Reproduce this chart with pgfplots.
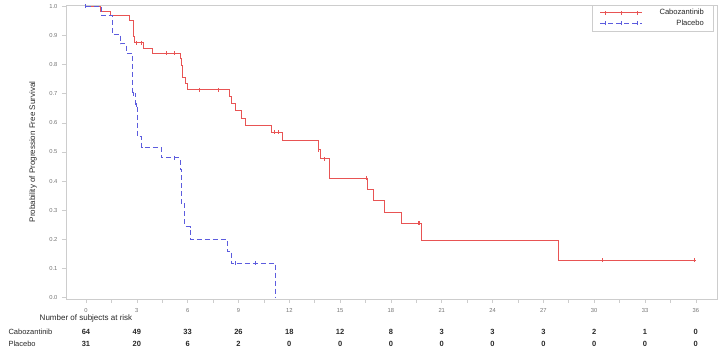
\documentclass[border=0pt]{standalone}
\usepackage{fontspec}
\setmainfont{Liberation Sans}
\usepackage{pgfplots}
\pgfplotsset{compat=1.18}
\definecolor{cabo}{RGB}{232,84,84}
\definecolor{plac}{RGB}{92,92,222}
\definecolor{framec}{RGB}{205,205,205}
\definecolor{tickc}{RGB}{115,115,115}
\definecolor{txt}{RGB}{40,40,40}
\begin{document}
\begin{tikzpicture}[x=1pt,y=1pt]
\path[use as bounding box] (0,0) rectangle (723,353);
\begin{axis}[at={(66pt,54pt)}, anchor=south west, scale only axis,
  width=651pt, height=294pt,
  xmin=-1.18, xmax=37.25, ymin=-0.0045, ymax=1.0045,
  xtick={0,3,6,9,12,15,18,21,24,27,30,33,36},
  minor xtick={1.5,4.5,7.5,10.5,13.5,16.5,19.5,22.5,25.5,28.5,31.5,34.5},
  ytick={0,0.1,0.2,0.3,0.4,0.5,0.6,0.7,0.8,0.9,1.0},
  yticklabel style={/pgf/number format/fixed,/pgf/number format/fixed zerofill,/pgf/number format/precision=1},
  /pgf/number format/assume math mode=true,
  ticklabel style={font=\fontsize{5.8}{7}\selectfont, text=tickc},
  xticklabel style={yshift=-2pt},
  yticklabel style={xshift=-1pt},
  tick align=outside, tick pos=left, major tick length=4pt, minor tick length=4pt,
  axis line style={draw=framec, line width=0.8pt}, tick style={draw=framec, line width=0.6pt},
  clip=false,
  legend style={at={(rel axis cs:0.994,1)}, anchor=north east, draw=framec,
    font=\fontsize{7.6}{8}\selectfont, text=txt, legend cell align=right,
    inner xsep=7pt, inner ysep=2pt, row sep=-0.5pt,
    /tikz/every odd column/.append style={column sep=15pt}},
  legend image code/.code={
    \draw[#1] (0pt,0pt) -- (42pt,0pt);
    \draw[#1,solid] (5pt,-2pt) -- (5pt,2pt);
    \draw[#1,solid] (21pt,-2pt) -- (21pt,2pt);
    \draw[#1,solid] (37pt,-2pt) -- (37pt,2pt);
  },
]
% Cabozantinib KM curve
\addplot[draw=cabo, color=cabo, line width=1pt, const plot, mark=none] coordinates {
(0,1) (0.83,0.981) (1.42,0.967) (2.56,0.95) (2.79,0.896) (2.88,0.875)
(3.38,0.856) (3.91,0.839) (5.55,0.82) (5.62,0.797) (5.68,0.756) (5.88,0.736)
(5.98,0.713) (8.5,0.69) (8.6,0.667) (8.85,0.644) (9.19,0.616) (9.44,0.59)
(10.96,0.567) (11.58,0.538) (13.75,0.507) (13.87,0.476) (14.36,0.41)
(16.6,0.37) (16.96,0.332) (17.65,0.293) (18.6,0.255) (19.8,0.195)
(27.92,0.129) (36,0.129)};
\addlegendentry{Cabozantinib}
% Placebo KM curve
\addplot[draw=plac, color=plac, line width=1pt, dash pattern=on 5pt off 3pt, const plot, mark=none] coordinates {
(0,1) (0.93,0.968) (1.55,0.903) (2.05,0.871) (2.4,0.839) (2.74,0.70)
(2.95,0.66) (3.05,0.553) (3.28,0.516) (4.46,0.48) (5.55,0.44) (5.62,0.324)
(5.84,0.244) (6.14,0.2) (8.34,0.158) (8.6,0.118) (11.2,0)};
\addlegendentry{Placebo}
% censor marks
\addplot[color=cabo, only marks, mark=|, mark size=2pt, mark options={line width=1pt}, forget plot] coordinates {
(2.99,0.875) (3.28,0.875) (4.76,0.839) (5.2,0.839) (6.69,0.713) (7.85,0.713)
(11.1,0.567) (11.35,0.567) (13.75,0.507) (14.1,0.476) (16.57,0.41)
(19.6,0.255) (19.7,0.255) (30.5,0.129) (35.95,0.129)};
\addplot[color=plac, only marks, mark=|, mark size=2pt, mark options={line width=1pt}, forget plot] coordinates {
(0,1) (2.79,0.70) (2.97,0.66) (5.25,0.48) (8.8,0.118) (10.0,0.118)};
% y label
\node[rotate=90, font=\fontsize{8}{9}\selectfont, text=txt] at (axis cs:-3.13,0.5) {Probability of Progression Free Survival};
% risk table
\node[font=\fontsize{8}{9}\selectfont, text=txt] at (axis cs:0,-0.0707) {Number of subjects at risk};
\node[anchor=west, font=\fontsize{7.5}{8}\selectfont, text=txt] at (axis cs:-4.78,-0.1187) {Cabozantinib};
\node[anchor=west, font=\fontsize{7.5}{8}\selectfont, text=txt] at (axis cs:-4.78,-0.1589) {Placebo};
\begin{scope}[every node/.style={font=\fontsize{7.5}{8}\selectfont\bfseries, text=txt}]
\node at (axis cs:0,-0.1187) {64};
\node at (axis cs:3,-0.1187) {49};
\node at (axis cs:6,-0.1187) {33};
\node at (axis cs:9,-0.1187) {26};
\node at (axis cs:12,-0.1187) {18};
\node at (axis cs:15,-0.1187) {12};
\node at (axis cs:18,-0.1187) {8};
\node at (axis cs:21,-0.1187) {3};
\node at (axis cs:24,-0.1187) {3};
\node at (axis cs:27,-0.1187) {3};
\node at (axis cs:30,-0.1187) {2};
\node at (axis cs:33,-0.1187) {1};
\node at (axis cs:36,-0.1187) {0};
\node at (axis cs:0,-0.1589) {31};
\node at (axis cs:3,-0.1589) {20};
\node at (axis cs:6,-0.1589) {6};
\node at (axis cs:9,-0.1589) {2};
\node at (axis cs:12,-0.1589) {0};
\node at (axis cs:15,-0.1589) {0};
\node at (axis cs:18,-0.1589) {0};
\node at (axis cs:21,-0.1589) {0};
\node at (axis cs:24,-0.1589) {0};
\node at (axis cs:27,-0.1589) {0};
\node at (axis cs:30,-0.1589) {0};
\node at (axis cs:33,-0.1589) {0};
\node at (axis cs:36,-0.1589) {0};
\end{scope}
\end{axis}
\end{tikzpicture}
\end{document}
